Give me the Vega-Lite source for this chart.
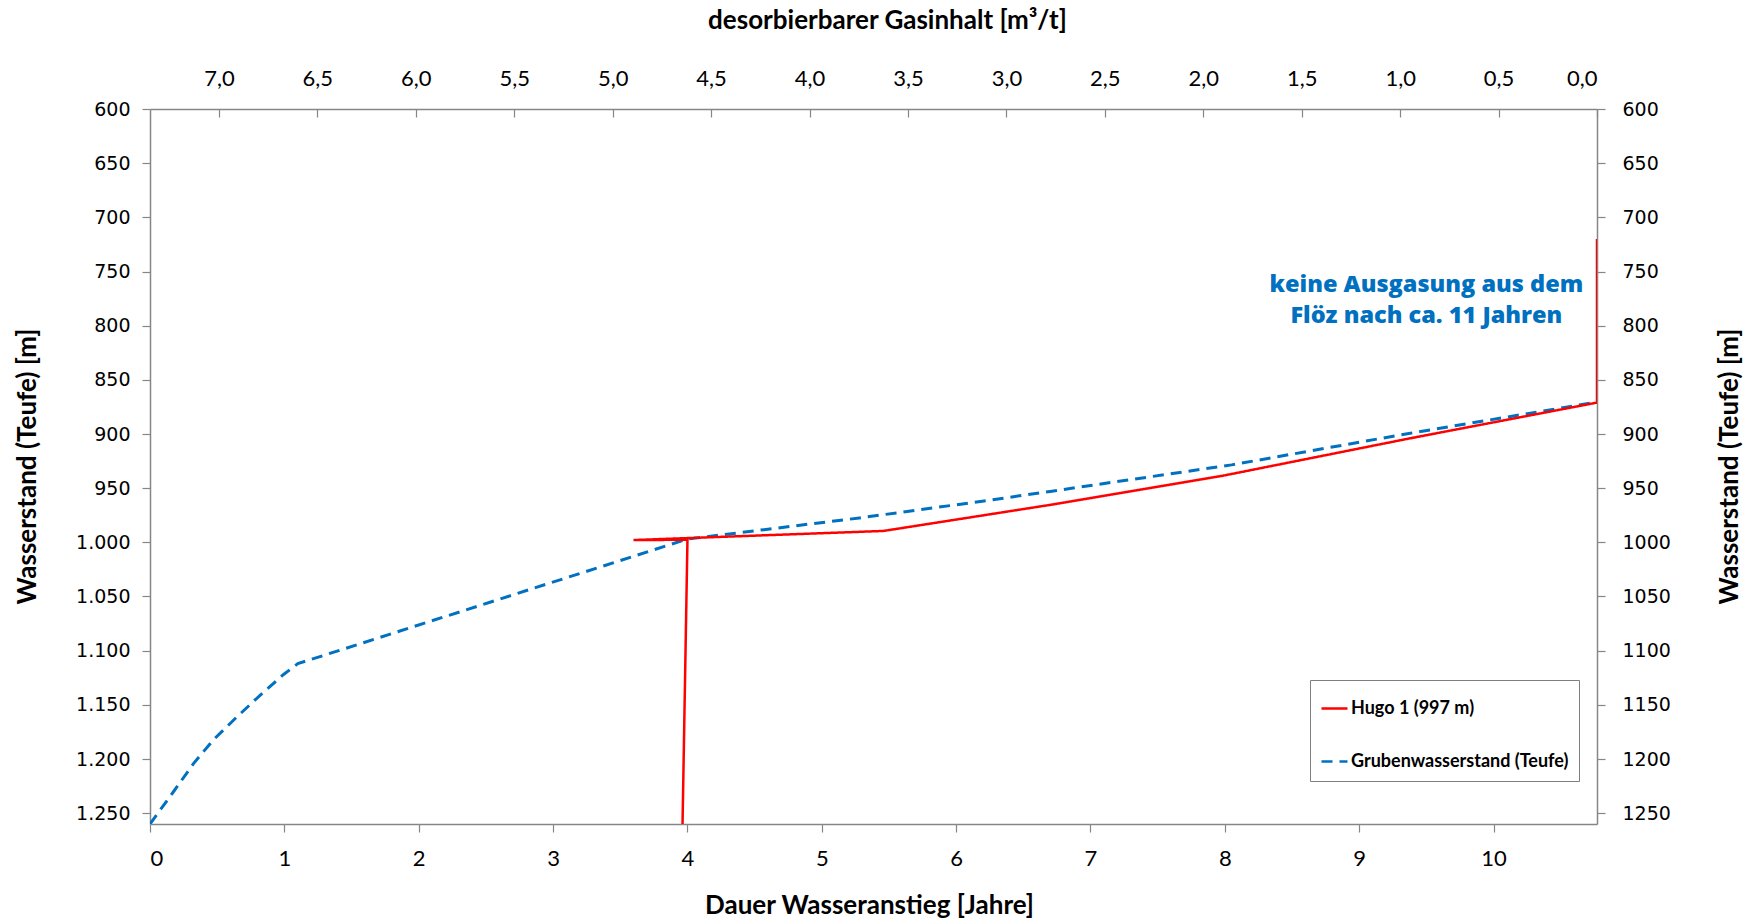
{
  "$schema": "https://vega.github.io/schema/vega-lite/v6.json",
  "autosize": "none",
  "width": 1447,
  "height": 715,
  "padding": {"left": 150, "top": 109, "right": 154, "bottom": 97},
  "background": "white",
  "datasets": {
    "blue": [
      {"i": 1, "series": "Grubenwasserstand (Teufe)", "jahre": 0.0, "teufe": 1260},
      {"i": 2, "series": "Grubenwasserstand (Teufe)", "jahre": 0.176, "teufe": 1230},
      {"i": 3, "series": "Grubenwasserstand (Teufe)", "jahre": 0.325, "teufe": 1204},
      {"i": 4, "series": "Grubenwasserstand (Teufe)", "jahre": 0.474, "teufe": 1182},
      {"i": 5, "series": "Grubenwasserstand (Teufe)", "jahre": 0.648, "teufe": 1161},
      {"i": 6, "series": "Grubenwasserstand (Teufe)", "jahre": 0.821, "teufe": 1141},
      {"i": 7, "series": "Grubenwasserstand (Teufe)", "jahre": 0.994, "teufe": 1122},
      {"i": 8, "series": "Grubenwasserstand (Teufe)", "jahre": 1.1, "teufe": 1112},
      {"i": 9, "series": "Grubenwasserstand (Teufe)", "jahre": 4.0, "teufe": 997},
      {"i": 10, "series": "Grubenwasserstand (Teufe)", "jahre": 5.28, "teufe": 977.5},
      {"i": 11, "series": "Grubenwasserstand (Teufe)", "jahre": 6.18, "teufe": 962.3},
      {"i": 12, "series": "Grubenwasserstand (Teufe)", "jahre": 6.7, "teufe": 953},
      {"i": 13, "series": "Grubenwasserstand (Teufe)", "jahre": 8.05, "teufe": 928.5},
      {"i": 14, "series": "Grubenwasserstand (Teufe)", "jahre": 9.37, "teufe": 899.5},
      {"i": 15, "series": "Grubenwasserstand (Teufe)", "jahre": 10.77, "teufe": 870.5}
    ],
    "red": [
      {"i": 1, "series": "Hugo 1 (997 m)", "gas": 4.645, "teufe": 1260},
      {"i": 2, "series": "Hugo 1 (997 m)", "gas": 4.62, "teufe": 997.6},
      {"i": 3, "series": "Hugo 1 (997 m)", "gas": 4.894, "teufe": 997.9},
      {"i": 4, "series": "Hugo 1 (997 m)", "gas": 3.625, "teufe": 989.5},
      {"i": 5, "series": "Hugo 1 (997 m)", "gas": 2.78, "teufe": 965.5},
      {"i": 6, "series": "Hugo 1 (997 m)", "gas": 1.9, "teufe": 938.5},
      {"i": 7, "series": "Hugo 1 (997 m)", "gas": 0.95, "teufe": 904},
      {"i": 8, "series": "Hugo 1 (997 m)", "gas": 0.0, "teufe": 871},
      {"i": 9, "series": "Hugo 1 (997 m)", "gas": 0.0, "teufe": 720}
    ],
    "note": [
      {"jahre": 9.5, "teufe": 762, "label": "keine Ausgasung aus dem\nFlöz nach ca. 11 Jahren"}
    ]
  },
  "layer": [
    {
      "data": {"name": "blue"},
      "mark": {"type": "line", "strokeWidth": 3, "clip": true},
      "encoding": {
        "x": {
          "field": "jahre", "type": "quantitative",
          "scale": {"domain": [0, 10.77], "nice": false, "zero": false},
          "axis": {
            "orient": "bottom", "values": [0,1,2,3,4,5,6,7,8,9,10], "format": "d",
            "title": "Dauer Wasseranstieg [Jahre]",
            "labelFont": "Lato", "labelFontSize": 22, "labelPadding": 16,
            "titleX": 719, "titleY": 81, "titleBaseline": "middle"
          }
        },
        "y": {
          "field": "teufe", "type": "quantitative",
          "scale": {"domain": [600, 1260], "reverse": true, "nice": false, "zero": false},
          "axis": {
            "orient": "left", "values": [600,650,700,750,800,850,900,950,1000,1050,1100,1150,1200,1250],
            "labelExpr": "datum.value >= 1000 ? replace(format(datum.value, ','), ',', '.') : format(datum.value, 'd')",
            "title": "Wasserstand (Teufe) [m]",
            "labelFont": "DejaVu Sans", "labelFontSize": 19, "labelPadding": 12,
            "titleX": -123, "titleY": 357, "titleAngle": -90, "titleBaseline": "middle", "titleAlign": "center"
          }
        },
        "order": {"field": "i", "type": "quantitative"},
        "color": {
          "field": "series", "type": "nominal",
          "scale": {"domain": ["Hugo 1 (997 m)", "Grubenwasserstand (Teufe)"], "range": ["#FF0000", "#0070C0"]},
          "legend": {"orient": "none", "legendX": 1160, "legendY": 571, "title": " "}
        },
        "strokeDash": {
          "field": "series", "type": "nominal",
          "scale": {"domain": ["Hugo 1 (997 m)", "Grubenwasserstand (Teufe)"], "range": [[1, 0], [11, 7]]},
          "legend": {"orient": "none", "legendX": 1160, "legendY": 571, "title": " "}
        }
      }
    },
    {
      "data": {"name": "red"},
      "mark": {"type": "line", "strokeWidth": 2.5, "clip": true},
      "encoding": {
        "x": {
          "field": "gas", "type": "quantitative",
          "scale": {"domain": [0, 7.35], "reverse": true, "nice": false, "zero": false},
          "axis": {
            "orient": "top", "values": [0,0.5,1,1.5,2,2.5,3,3.5,4,4.5,5,5.5,6,6.5,7],
            "labelExpr": "replace(format(datum.value, '.1f'), '.', ',')",
            "title": "desorbierbarer Gasinhalt [m³/t]",
            "labelFont": "Lato", "labelFontSize": 22, "tickSize": -8, "labelPadding": 27,
            "titleX": 737, "titleY": -89, "titleBaseline": "middle"
          }
        },
        "y": {
          "field": "teufe", "type": "quantitative",
          "scale": {"domain": [600, 1260], "reverse": true, "nice": false, "zero": false},
          "axis": {
            "orient": "right", "values": [600,650,700,750,800,850,900,950,1000,1050,1100,1150,1200,1250],
            "format": "d",
            "title": "Wasserstand (Teufe) [m]",
            "labelFont": "DejaVu Sans", "labelFontSize": 19, "labelPadding": 17,
            "titleX": 132, "titleY": 357, "titleAngle": -90, "titleBaseline": "middle", "titleAlign": "center"
          }
        },
        "order": {"field": "i", "type": "quantitative"},
        "color": {
          "field": "series", "type": "nominal",
          "scale": {"domain": ["Hugo 1 (997 m)", "Grubenwasserstand (Teufe)"], "range": ["#FF0000", "#0070C0"]},
          "legend": {"orient": "none", "legendX": 1160, "legendY": 571, "title": " "}
        },
        "strokeDash": {
          "field": "series", "type": "nominal",
          "scale": {"domain": ["Hugo 1 (997 m)", "Grubenwasserstand (Teufe)"], "range": [[1, 0], [11, 7]]},
          "legend": {"orient": "none", "legendX": 1160, "legendY": 571, "title": " "}
        }
      }
    },
    {
      "data": {"name": "note"},
      "mark": {"type": "text", "color": "#0070C0", "font": "Open Sans", "fontWeight": 800, "fontSize": 23.5, "align": "center", "baseline": "middle", "lineBreak": "\n", "lineHeight": 31},
      "encoding": {
        "x": {"field": "jahre", "type": "quantitative", "scale": {"domain": [0, 10.77], "nice": false, "zero": false}, "axis": null},
        "y": {"field": "teufe", "type": "quantitative", "scale": {"domain": [600, 1260], "reverse": true, "nice": false, "zero": false}, "axis": null},
        "text": {"field": "label", "type": "nominal"}
      }
    }
  ],
  "resolve": {"scale": {"x": "independent", "y": "independent"}, "axis": {"x": "independent", "y": "independent"}},
  "config": {
    "view": {"stroke": null},
    "axis": {
      "grid": false,
      "domainColor": "#868686", "domainWidth": 1.5,
      "tickColor": "#868686", "tickSize": 8, "tickWidth": 1.2,
      "labelColor": "#000000",
      "titleFont": "Lato", "titleFontWeight": "bold", "titleFontSize": 26, "titleColor": "#000000"
    },
    "legend": {
      "strokeColor": "#7f7f7f", "fillColor": "#ffffff", "padding": 10, "cornerRadius": 0,
      "titleFontSize": 4, "titlePadding": 0,
      "symbolType": "stroke", "symbolSize": 676, "symbolStrokeWidth": 2.5,
      "labelFont": "Lato", "labelFontWeight": "bold", "labelFontSize": 18, "labelColor": "#000000",
      "labelOffset": 2, "rowPadding": 29, "labelLimit": 400
    }
  }
}
